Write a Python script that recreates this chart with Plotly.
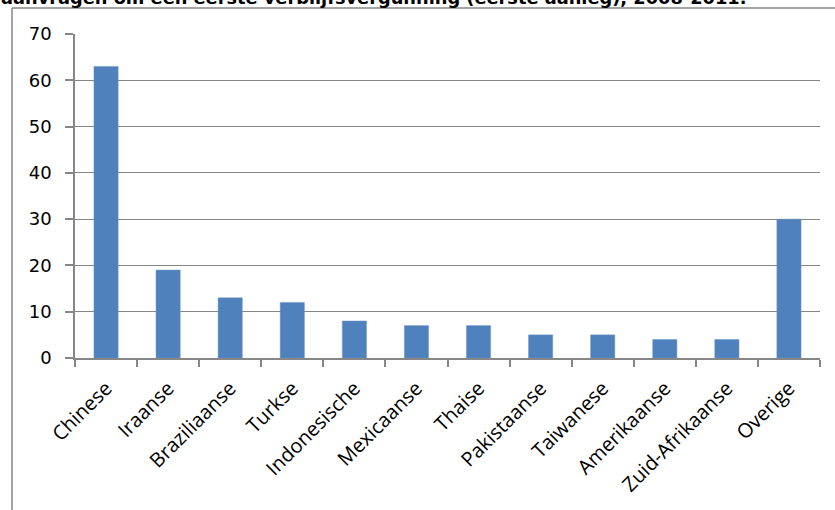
import plotly.graph_objects as go

categories = ["Chinese", "Iraanse", "Braziliaanse", "Turkse", "Indonesische", "Mexicaanse",
              "Thaise", "Pakistaanse", "Taiwanese", "Amerikaanse", "Zuid-Afrikaanse", "Overige"]
values = [63, 19, 13, 12, 8, 7, 7, 5, 5, 4, 4, 30]
title_text = "aanvragen om een eerste verblijfsvergunning (eerste aanleg), 2008-2011."

W, H = 835, 510
L, R, T, B = 75, 15, 34, 152
pw, ph = W - L - R, H - T - B

def px(x):
    return (x - L) / pw

def py(y):
    return (H - B - y) / ph

fig = go.Figure()
fig.add_trace(go.Bar(
    x=categories, y=values,
    marker=dict(color="#4F81BD", line=dict(color="#6F97CB", width=0.5)),
))

grey = "#878787"
fig.update_layout(
    width=W, height=H,
    margin=dict(l=L, r=R, t=T, b=B),
    paper_bgcolor="white", plot_bgcolor="white",
    bargap=0.61,
    showlegend=False,
    font=dict(family="Open Sans, DejaVu Sans, sans-serif", color="black"),
    xaxis=dict(
        showline=True, linecolor=grey, linewidth=1.5,
        ticks="outside", tickson="boundaries", ticklen=7, tickcolor=grey, tickwidth=1.5,
        ticklabelstandoff=9,
        tickangle=-45, tickfont=dict(size=20, family="Open Sans, sans-serif"),
        showgrid=False,
    ),
    yaxis=dict(
        range=[0, 70], dtick=10,
        showline=True, linecolor=grey, linewidth=1.5,
        ticks="outside", ticklen=8, tickcolor=grey, tickwidth=1.5,
        ticklabelstandoff=10,
        showgrid=True, gridcolor=grey, gridwidth=1.3,
        tickfont=dict(size=18, family="DejaVu Sans, Verdana, sans-serif"),
        zeroline=False,
    ),
    shapes=[
        # outer chart frame: only the top and left edges are inside the window
        dict(type="line", xref="paper", yref="paper",
             x0=px(12), x1=px(840), y0=py(8), y1=py(8),
             line=dict(color=grey, width=1.5)),
        dict(type="line", xref="paper", yref="paper",
             x0=px(12), x1=px(12), y0=py(8), y1=py(520),
             line=dict(color=grey, width=1.5)),
    ],
    annotations=[
        dict(text="<b>" + title_text + "</b>", xref="paper", yref="paper",
             x=px(-1), y=py(10), xanchor="left", yanchor="bottom", showarrow=False,
             font=dict(size=17.8, family="DejaVu Sans, Verdana, sans-serif", color="black")),
    ],
)

# drop the default page margin so the figure sits at the window's top-left corner
fig.write_html("out.html", config={"displayModeBar": False},
               post_script="document.body.style.margin = '0';")
